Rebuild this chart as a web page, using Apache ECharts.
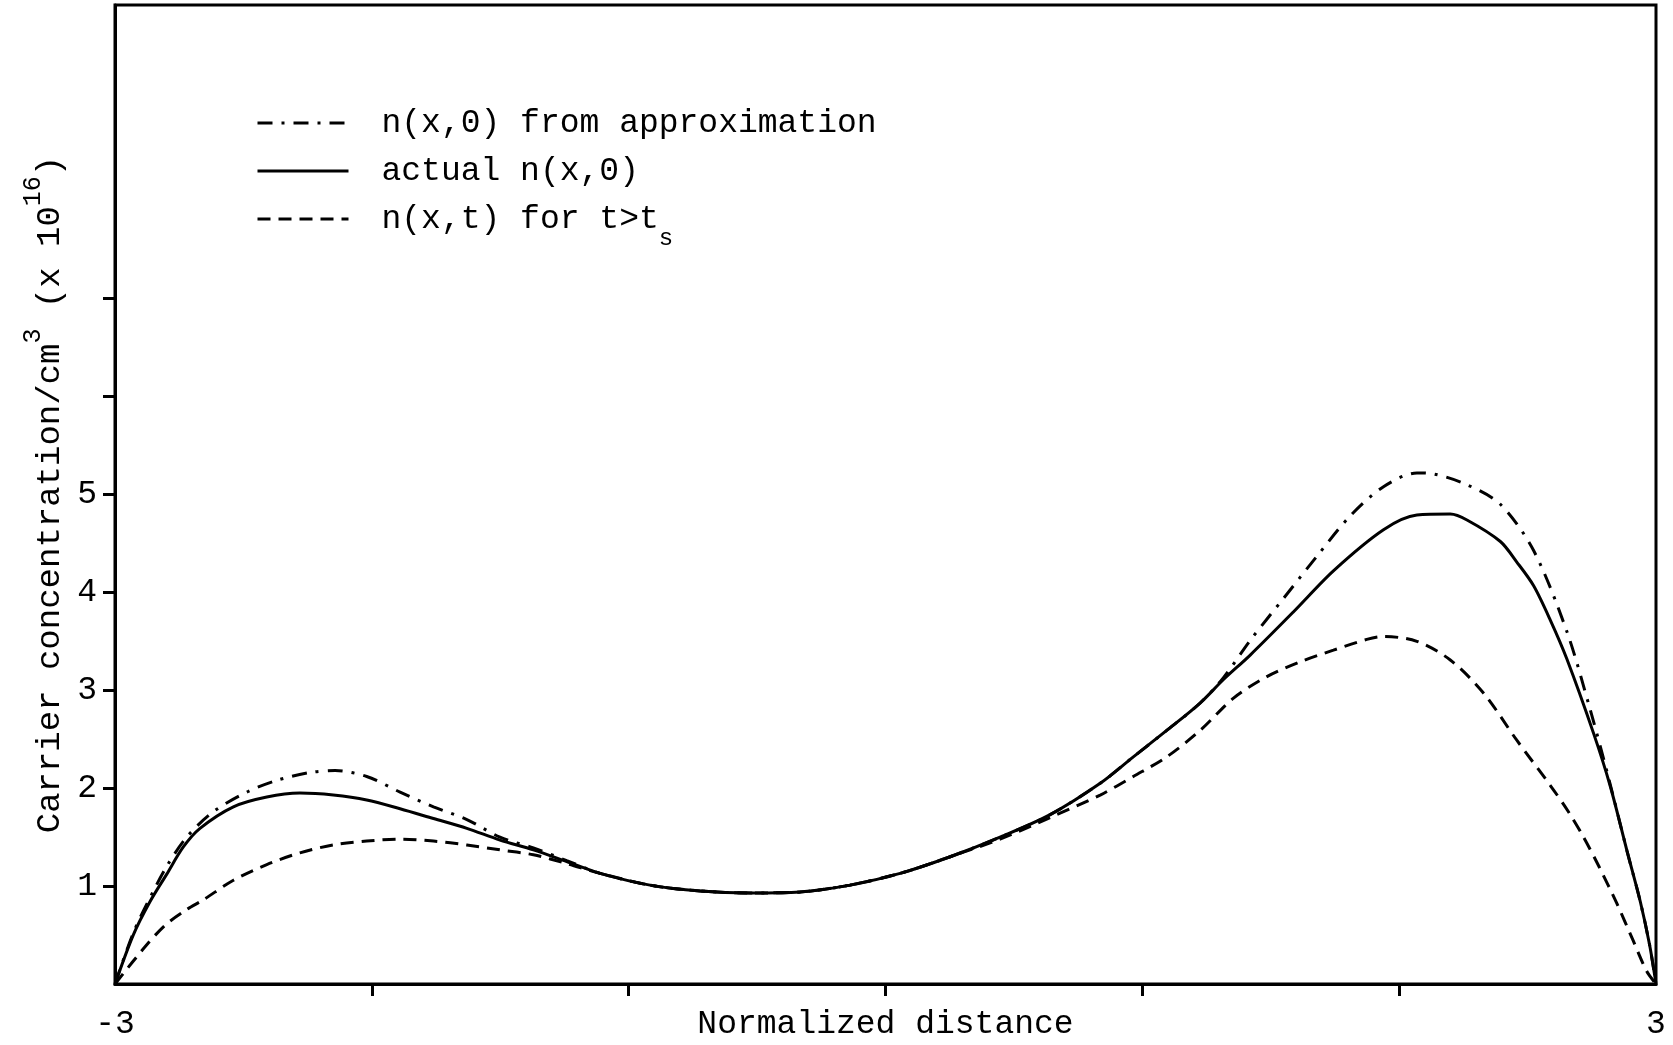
<!DOCTYPE html>
<html>
<head>
<meta charset="utf-8">
<script src="https://cdn.jsdelivr.net/npm/echarts@6/dist/echarts.min.js"></script>
<style>
html,body{margin:0;padding:0;background:#fff;}
#chart{width:1673px;height:1045px;}
</style>
</head>
<body>
<div id="chart"></div>
<script>
// ---- data ----
const seriesNames = ['n(x,0) from approximation', 'actual n(x,0)', 'n(x,t) for t>ts'];

// dash-dot: n(x,0) from approximation
const approxX = [-3, -2.929, -2.864, -2.799, -2.721, -2.617, -2.487, -2.370, -2.241, -2.143, -2.020, -1.890, -1.760, -1.630, -1.501, -1.371, -1.241, -1.111, -0.917, -0.722, -0.527, -0.333, -0.138, 0.057, 0.252, 0.446, 0.641, 0.836, 0.965, 1.095, 1.225, 1.316, 1.420, 1.550, 1.680, 1.809, 1.939, 2.069, 2.134, 2.264, 2.394, 2.523, 2.653, 2.743, 2.809, 2.887, 2.939, 2.975, 3];
const approxY = [0, 0.52, 0.88, 1.20, 1.50, 1.76, 1.96, 2.08, 2.16, 2.18, 2.12, 1.96, 1.81, 1.68, 1.50, 1.39, 1.26, 1.13, 1.01, 0.95, 0.93, 0.94, 1.01, 1.13, 1.30, 1.50, 1.73, 2.05, 2.32, 2.59, 2.87, 3.13, 3.51, 3.94, 4.37, 4.78, 5.08, 5.22, 5.21, 5.10, 4.90, 4.43, 3.60, 2.81, 2.17, 1.36, 0.84, 0.40, 0];

// solid: actual n(x,0)
const actualX = [-3, -2.929, -2.864, -2.799, -2.734, -2.669, -2.539, -2.409, -2.280, -2.150, -2.020, -1.890, -1.760, -1.630, -1.501, -1.371, -1.241, -1.111, -0.917, -0.722, -0.527, -0.333, -0.138, 0.057, 0.252, 0.446, 0.641, 0.836, 0.965, 1.095, 1.225, 1.316, 1.420, 1.588, 1.744, 1.939, 2.069, 2.199, 2.264, 2.394, 2.458, 2.523, 2.588, 2.653, 2.757, 2.822, 2.887, 2.939, 2.975, 3];
const actualY = [0, 0.50, 0.84, 1.12, 1.40, 1.59, 1.81, 1.91, 1.95, 1.93, 1.88, 1.79, 1.69, 1.59, 1.47, 1.37, 1.25, 1.13, 1.01, 0.95, 0.93, 0.94, 1.01, 1.13, 1.30, 1.50, 1.73, 2.05, 2.32, 2.59, 2.87, 3.11, 3.36, 3.80, 4.22, 4.64, 4.79, 4.80, 4.74, 4.52, 4.31, 4.07, 3.72, 3.32, 2.56, 2.02, 1.36, 0.84, 0.40, 0];

// dashed: n(x,t) for t>ts
const laterX = [-3, -2.883, -2.805, -2.721, -2.656, -2.539, -2.409, -2.280, -2.150, -2.020, -1.890, -1.760, -1.630, -1.501, -1.371, -1.241, -1.111, -0.917, -0.722, -0.527, -0.333, -0.138, 0.057, 0.252, 0.446, 0.641, 0.836, 0.965, 1.095, 1.225, 1.355, 1.485, 1.614, 1.744, 1.874, 1.939, 2.069, 2.199, 2.329, 2.458, 2.588, 2.659, 2.718, 2.778, 2.848, 2.910, 2.964, 3];
const laterY = [0, 0.38, 0.60, 0.76, 0.86, 1.06, 1.22, 1.34, 1.42, 1.46, 1.48, 1.46, 1.42, 1.37, 1.32, 1.23, 1.13, 1.01, 0.95, 0.93, 0.94, 1.01, 1.13, 1.30, 1.48, 1.70, 1.93, 2.12, 2.32, 2.59, 2.92, 3.14, 3.29, 3.41, 3.52, 3.55, 3.50, 3.31, 2.97, 2.49, 2.03, 1.76, 1.50, 1.20, 0.82, 0.45, 0.13, 0];

// ticks / labels
const xTickValues = [-2, -1, 0, 1, 2];
const xLabelValues = [-3, 3];
const yTickValues = [1, 2, 3, 4, 5, 6, 7];
const yLabelValues = [1, 2, 3, 4, 5];

// ---- chart ----
const FONT = 'Liberation Mono';
const INK = '#000';
function zip(xs, ys) { return xs.map((x, i) => [x, ys[i]]); }

const chart = echarts.init(document.getElementById('chart'), null, {renderer: 'canvas'});
chart.setOption({
  animation: false,
  backgroundColor: '#fff',
  color: [INK, INK, INK],
  grid: {left: 115, right: 17, top: 5, bottom: 61, outerBoundsMode: 'none', containLabel: false,
         show: true, borderColor: INK, borderWidth: 3, backgroundColor: 'transparent'},
  legend: {
    orient: 'vertical',
    left: 251,
    top: 86,
    itemWidth: 91,
    itemHeight: 14,
    itemGap: -16,
    data: seriesNames,
    formatter: function (name) {
      if (name === seriesNames[2]) return '{a|n(x,t) for t>t}{b|s}';
      return '{a|' + name + '}{b| }';
    },
    textStyle: {
      color: INK,
      rich: {
        a: {fontFamily: FONT, fontSize: 33, color: INK, padding: [0, 0, 0, 28]},
        b: {fontFamily: FONT, fontSize: 24, lineHeight: 6, color: INK, verticalAlign: 'middle', padding: [40, 0, 0, 0]}
      }
    },
    itemStyle: {opacity: 0},
    lineStyle: {width: 3}
  },
  xAxis: {
    type: 'value', min: -3, max: 3, interval: 1,
    name: 'Normalized distance', nameLocation: 'middle', nameGap: 24, nameMoveOverlap: false,
    nameTextStyle: {fontFamily: FONT, fontSize: 33, color: INK},
    axisLine: {show: true, onZero: false, lineStyle: {color: INK, width: 3}},
    axisTick: {show: true, customValues: xTickValues, length: 12, lineStyle: {color: INK, width: 3}},
    axisLabel: {customValues: xLabelValues, fontFamily: FONT, fontSize: 33, color: INK, margin: 24},
    splitLine: {show: false}
  },
  yAxis: {
    type: 'value', min: 0, max: 10, interval: 1,
    name: '{a|Carrier concentration/cm}{s|3}{a| (x 10}{s|16}{a|)}',
    nameLocation: 'middle', nameGap: 48, nameRotate: 90, nameMoveOverlap: false,
    nameTextStyle: {
      color: INK,
      rich: {
        a: {fontFamily: FONT, fontSize: 34, color: INK},
        s: {fontFamily: FONT, fontSize: 25, lineHeight: 6, color: INK, verticalAlign: 'middle', padding: [0, 0, 34, 0]}
      }
    },
    axisLine: {show: true, onZero: false, lineStyle: {color: INK, width: 3}},
    axisTick: {show: true, customValues: yTickValues, length: 12, lineStyle: {color: INK, width: 3}},
    axisLabel: {customValues: yLabelValues, fontFamily: FONT, fontSize: 33, color: INK, margin: 18},
    splitLine: {show: false}
  },
  series: [
    {
      name: seriesNames[0], type: 'line', data: zip(approxX, approxY),
      smooth: 0.3, symbol: 'none', showSymbol: false, z: 2,
      itemStyle: {color: INK},
      lineStyle: {color: INK, width: 3, type: [15, 9, 3, 9]}
    },
    {
      name: seriesNames[1], type: 'line', data: zip(actualX, actualY),
      smooth: 0.3, symbol: 'none', showSymbol: false, z: 4,
      itemStyle: {color: INK},
      lineStyle: {color: INK, width: 3, type: 'solid'}
    },
    {
      name: seriesNames[2], type: 'line', data: zip(laterX, laterY),
      smooth: 0.3, symbol: 'none', showSymbol: false, z: 3,
      itemStyle: {color: INK},
      lineStyle: {color: INK, width: 3, type: [13, 8]}
    }
  ]
});
</script>
</body>
</html>
